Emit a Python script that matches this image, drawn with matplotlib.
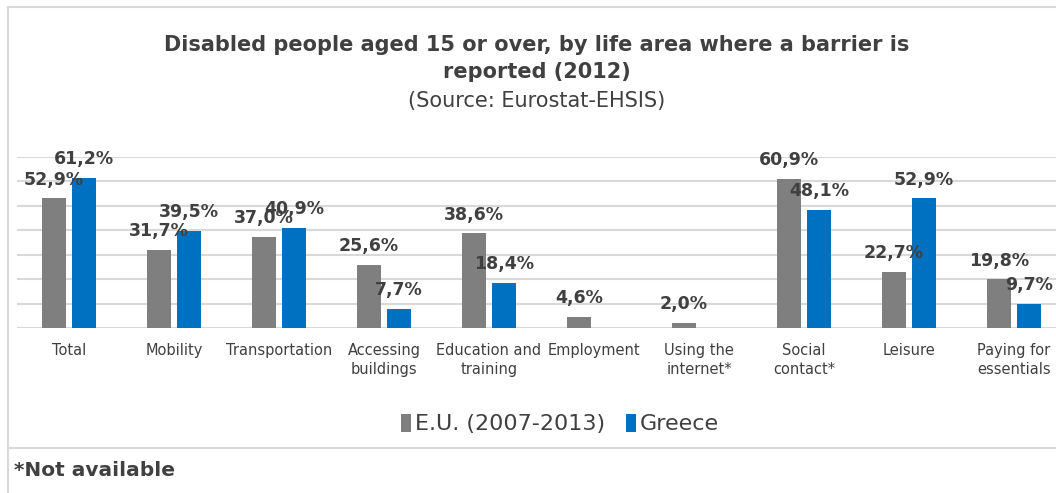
import matplotlib.pyplot as plt
from matplotlib.lines import Line2D
import numpy as np

categories = ["Total", "Mobility", "Transportation", "Accessing\nbuildings",
              "Education and\ntraining", "Employment", "Using the\ninternet*",
              "Social\ncontact*", "Leisure", "Paying for\nessentials"]
eu_values = [52.9, 31.7, 37.0, 25.6, 38.6, 4.6, 2.0, 60.9, 22.7, 19.8]
greece_values = [61.2, 39.5, 40.9, 7.7, 18.4, None, None, 48.1, 52.9, 9.7]
series_names = ["E.U. (2007-2013)", "Greece"]

W, H = 1056, 493
fig = plt.figure(figsize=(W / 100, H / 100), dpi=100)
plt.rcParams['font.family'] = ['DejaVu Sans']

text_col = '#404040'
grid_col = '#D9D9D9'


def fx(px):
    return px / W


def fy(py):
    return 1 - py / H


# outer border + footnote separator
fig.add_artist(Line2D([fx(8), fx(8)], [fy(7), 0], color=grid_col, lw=1.5))
fig.add_artist(Line2D([fx(8), 1], [fy(7), fy(7)], color=grid_col, lw=1.5))
fig.add_artist(Line2D([fx(8), 1], [fy(448), fy(448)], color=grid_col, lw=1.5))

ax = fig.add_axes([fx(16.5), fy(328), 1050 / W, 171.5 / H])
x = np.arange(len(categories))
w = 0.22
off = 0.143

eu_h = [v if v is not None else 0 for v in eu_values]
gr_h = [v if v is not None else 0 for v in greece_values]
b1 = ax.bar(x - off, eu_h, w, color='#7F7F7F', label=series_names[0], zorder=3)
b2 = ax.bar(x + off, gr_h, w, color='#0070C0', label=series_names[1], zorder=3)

for xs, vals in ((x - off, eu_values), (x + off, greece_values)):
    for xi, v in zip(xs, vals):
        if v is None:
            continue
        ax.annotate(f"{v:.1f}%".replace('.', ','), (xi, v), xytext=(0, 10),
                    textcoords='offset points', ha='center', va='baseline',
                    fontsize=12.5, fontweight='bold', color=text_col, zorder=5)

ax.set_xlim(-0.5, len(categories) - 0.5)
ax.set_ylim(0, 70)
ax.set_yticks(np.arange(0, 71, 10))
ax.yaxis.grid(True, color=grid_col, lw=1.5, zorder=0)
ax.set_yticklabels([])
ax.tick_params(axis='y', length=0)
ax.tick_params(axis='x', length=0, pad=11, labelsize=10.5, labelcolor=text_col)
ax.set_xticks(x)
ax.set_xticklabels(categories, linespacing=1.3, va='top')
for s in ax.spines.values():
    s.set_visible(False)
ax.set_facecolor('none')

fig.text(fx(537), fy(45), "Disabled people aged 15 or over, by life area where a barrier is",
         ha='center', va='center', fontsize=15, fontweight='bold', color=text_col)
fig.text(fx(537), fy(72), "reported (2012)", ha='center', va='center',
         fontsize=15, fontweight='bold', color=text_col)
fig.text(fx(537), fy(101), "(Source: Eurostat-EHSIS)", ha='center', va='center',
         fontsize=15, color=text_col)

fig.legend(handles=[b1, b2], labels=series_names, loc='center',
           bbox_to_anchor=(fx(560), fy(424)), ncol=2, frameon=False,
           fontsize=16, handlelength=0.45, handleheight=0.9, handletextpad=0.2,
           columnspacing=0.9, labelcolor=text_col)

fig.text(fx(14), fy(470), "*Not available", ha='left', va='center',
         fontsize=14.5, fontweight='bold', color=text_col)

fig.savefig('out.png', dpi=100)
